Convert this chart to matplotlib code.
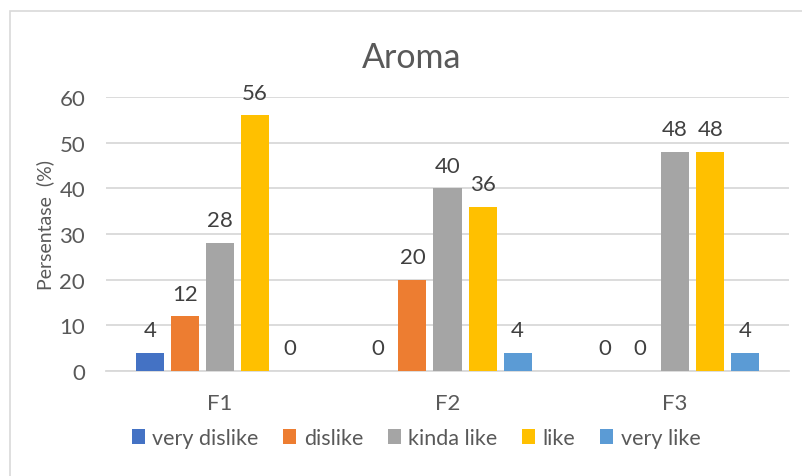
import matplotlib

matplotlib.use("Agg")
import matplotlib.pyplot as plt
import numpy as np
from matplotlib.patches import Rectangle

categories = ["F1", "F2", "F3"]
series_names = ["very dislike", "dislike", "kinda like", "like", "very like"]
very_dislike = [4, 0, 0]
dislike = [12, 20, 0]
kinda_like = [28, 40, 48]
like = [56, 36, 48]
very_like = [0, 4, 4]
y_ticks = [0, 10, 20, 30, 40, 50, 60]

colors = ["#4472C4", "#ED7D31", "#A5A5A5", "#FFC000", "#5B9BD5"]
text_color = "#595959"
grid_color = "#D9D9D9"

plt.rcParams["font.family"] = ["Lato", "DejaVu Sans"]

W, H = 802, 477
fig = plt.figure(figsize=(W / 100, H / 100), dpi=100)

# chart area border (cropped at right and bottom in the reference)
fig.patches.append(
    Rectangle((10 / W, -0.1), 1.1, (H - 12) / H + 0.1, transform=fig.transFigure,
              fill=False, edgecolor=grid_color, linewidth=1.2)
)

ax = fig.add_axes([106 / W, (H - 372) / H, (789 - 106) / W, (372 - 98) / H])

x = np.arange(len(categories))
step = 0.154
width = 0.123
all_series = [very_dislike, dislike, kinda_like, like, very_like]
for i, (name, vals) in enumerate(zip(series_names, all_series)):
    pos = x + (i - 2) * step
    ax.bar(pos, vals, width, color=colors[i], label=name, zorder=3)
    for xp, v in zip(pos, vals):
        ax.annotate(str(v), xy=(xp, v), xytext=(0, 12), textcoords="offset points",
                    ha="center", va="baseline", fontsize=16, color="#404040",
                    annotation_clip=False)

ax.set_xlim(-0.5, 2.5)
ax.set_ylim(0, 60)
ax.set_yticks(y_ticks)
ax.set_xticks(x)
ax.set_xticklabels(categories)
ax.tick_params(axis="both", length=0, labelsize=16, labelcolor=text_color)
ax.tick_params(axis="x", pad=16)
ax.tick_params(axis="y", pad=15)
ax.grid(axis="y", color=grid_color, linewidth=1.3, zorder=0)
for side in ["top", "right", "left"]:
    ax.spines[side].set_visible(False)
ax.spines["bottom"].set_color(grid_color)
ax.spines["bottom"].set_linewidth(1.3)

fig.text(45 / W, 1 - 225 / H, "Persentase  (%)", rotation=90, ha="center", va="center",
         fontsize=14, color=text_color)
fig.text(412 / W, 1 - 58 / H, "Aroma", ha="center", va="center", fontsize=24.5,
         color=text_color)

fig.legend(loc="center", bbox_to_anchor=(416 / W, 1 - 439 / H), ncol=5, frameon=False,
           fontsize=15.5, labelcolor=text_color, handlelength=0.6, handleheight=0.75,
           handletextpad=0.35, columnspacing=1.15)

fig.savefig("out.png", dpi=100)
